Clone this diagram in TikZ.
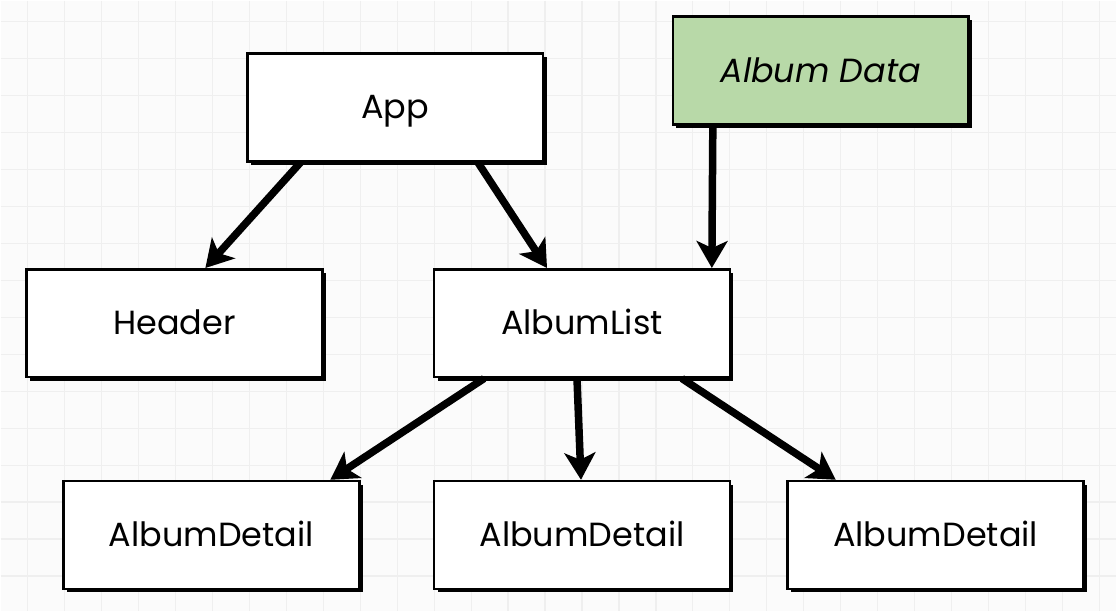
\documentclass[tikz,border=0pt]{standalone}
\usepackage{fontspec}
\setmainfont{Poppins}
\usetikzlibrary{arrows.meta,shadows}

\definecolor{gridline}{HTML}{EFEFEF}
\definecolor{paper}{HTML}{FBFBFB}
\definecolor{datagreen}{HTML}{B8D9A8}

\tikzset{
    comp/.style={draw=black, line width=2.6pt, fill=white,
        minimum width=296pt, minimum height=108pt, inner sep=0pt,
        text height=23pt, text depth=0pt,
        font=\fontsize{33.5}{40}\selectfont,
        drop shadow={shadow xshift=3.5pt, shadow yshift=-3.5pt, fill=black, opacity=1}},
    datasrc/.style={comp, fill=datagreen, font=\fontsize{33.5}{40}\selectfont\itshape},
    flow/.style={-{Stealth[length=27pt,width=31pt,inset=7pt]}, line width=7.5pt}
}

\begin{document}
\begin{tikzpicture}[x=1pt,y=-1pt]
            \fill[paper] (0,0) rectangle (1117,611);
            \foreach \gx in {27,64,...,1117} \draw[gridline, line width=1.2pt] (\gx,0) -- (\gx,611);
            \foreach \gy in {21,58,...,611} \draw[gridline, line width=1.2pt] (0,\gy) -- (1117,\gy);
            \useasboundingbox (0,0) rectangle (1117,611);

            \node[comp] (app) at (395,107) {App};
            \node[datasrc] (data) at (821,70) {Album Data};
            \node[comp] (header) at (174,323) {Header};
            \node[comp] (list) at (582,323) {AlbumList};
            \node[comp] (detail_1) at (211,535) {AlbumDetail};
            \node[comp] (detail_2) at (582,535) {AlbumDetail};
            \node[comp] (detail_3) at (936,535) {AlbumDetail};

            \draw[flow] ([xshift=-95pt]app.south) -- ([xshift=31pt]header.north);
            \draw[flow] ([xshift=83pt]app.south) -- ([xshift=-35pt]list.north);
            \draw[flow] ([xshift=-108pt]data.south) -- ([xshift=130pt]list.north);
            \draw[flow] ([xshift=-98pt]list.south) -- ([xshift=119pt]detail_1.north);
            \draw[flow] ([xshift=-5pt]list.south) -- ([xshift=-1pt]detail_2.north);
            \draw[flow] ([xshift=100pt]list.south) -- ([xshift=-100pt]detail_3.north);
\end{tikzpicture}
\end{document}
